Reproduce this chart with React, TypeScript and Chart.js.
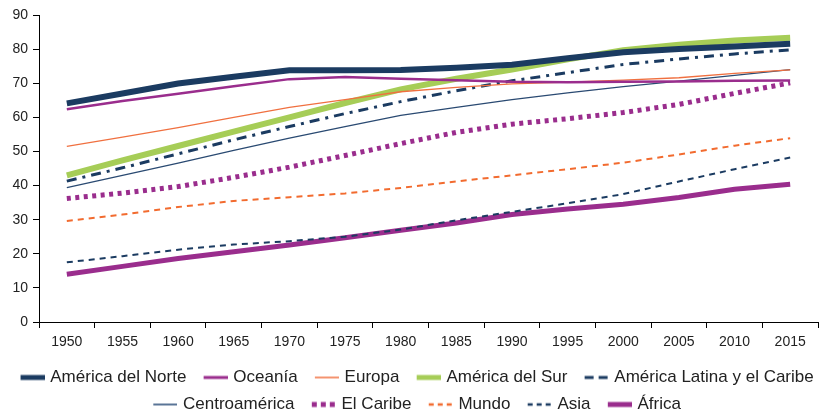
import React, { useEffect, useRef } from 'react';
import { Chart, registerables } from 'chart.js';

Chart.register(...registerables);

const years = ['1950', '1955', '1960', '1965', '1970', '1975', '1980', '1985', '1990', '1995', '2000', '2005', '2010', '2015'];

const americaNorte = [64.1, 67.0, 69.9, 71.9, 73.8, 73.8, 73.9, 74.5, 75.4, 77.3, 79.1, 80.0, 80.8, 81.6];
const oceania = [62.4, 64.8, 66.9, 69.1, 71.2, 71.8, 71.3, 70.9, 70.4, 70.3, 70.4, 70.5, 70.7, 70.8];
const europa = [51.5, 54.2, 57.0, 60.0, 62.9, 65.2, 67.5, 68.8, 69.8, 70.3, 70.9, 71.6, 72.9, 73.9];
const americaSur = [43.0, 47.4, 51.6, 55.8, 60.0, 64.2, 68.2, 71.3, 74.0, 77.0, 79.7, 81.3, 82.5, 83.3];
const americaLatina = [41.3, 45.2, 49.3, 53.4, 57.3, 61.1, 64.6, 67.8, 70.7, 73.1, 75.5, 77.1, 78.6, 79.8];
const centroamerica = [39.4, 43.0, 46.6, 50.3, 53.9, 57.3, 60.6, 62.9, 65.2, 67.2, 69.0, 70.6, 72.3, 74.0];
const caribe = [36.2, 37.8, 39.7, 42.4, 45.4, 48.8, 52.3, 55.6, 58.0, 59.6, 61.4, 63.8, 67.0, 70.1];
const mundo = [29.6, 31.5, 33.7, 35.5, 36.6, 37.7, 39.3, 41.2, 43.0, 44.8, 46.7, 49.1, 51.7, 53.9];
const asia = [17.5, 19.3, 21.2, 22.7, 23.7, 25.0, 27.1, 29.8, 32.3, 34.8, 37.5, 41.2, 44.8, 48.2];
const africa = [14.0, 16.3, 18.6, 20.6, 22.6, 24.7, 26.9, 29.0, 31.5, 33.1, 34.5, 36.5, 38.9, 40.4];

const yTicks = [0, 10, 20, 30, 40, 50, 60, 70, 80, 90];

const NAVY = '#1b3b61';
const PURPLE = '#9a2d8d';
const ORANGE = '#f26b2f';
const GREEN = '#a6cd57';

// legend sample styles: [color, width, dash]
const legendSamples: [string, number, number[]][] = [
  [NAVY, 5, []],
  [PURPLE, 3, []],
  ['#f07040', 1.5, []],
  [GREEN, 5, []],
  [NAVY, 3, [9, 5]],
  ['#5a7597', 2, []],
  [PURPLE, 5, [5, 4]],
  [ORANGE, 2.5, [5, 4]],
  [NAVY, 2.5, [5, 4]],
  [PURPLE, 5, []],
];

function makeSample(color: string, width: number, dash: number[]) {
  const c = document.createElement('canvas');
  c.width = 34;
  c.height = 8;
  const ctx = c.getContext('2d')!;
  ctx.strokeStyle = color;
  ctx.lineWidth = width;
  ctx.lineCap = 'butt';
  ctx.setLineDash(dash);
  ctx.beginPath();
  ctx.moveTo(10, 4);
  ctx.lineTo(34, 4);
  ctx.stroke();
  return c;
}

function ds(label: string, data: number[], color: string, width: number, dash: number[] = []) {
  return {
    label,
    data,
    borderColor: color,
    backgroundColor: color,
    borderWidth: width,
    borderDash: dash,
    borderCapStyle: 'butt' as const,
    pointRadius: 0,
    pointHoverRadius: 0,
    tension: 0,
    fill: false,
    yAxisID: 'y',
  };
}

export default function App() {
  const ref = useRef<HTMLCanvasElement>(null);

  useEffect(() => {
    if (!ref.current) return;
    const samples = legendSamples.map(([c, w, d]) => makeSample(c, w, d));
    const tickFont = { family: "'Liberation Sans', Arial, sans-serif", size: 14 };
    const chart = new Chart(ref.current, {
      type: 'line',
      data: {
        labels: years,
        datasets: [
          ds('América del Norte', americaNorte, NAVY, 6),
          ds('Oceanía', oceania, PURPLE, 2.5),
          ds('Europa', europa, '#f07040', 1.3),
          ds('América del Sur', americaSur, GREEN, 6),
          ds('América Latina y el Caribe', americaLatina, NAVY, 3, [10, 6, 3, 6]),
          ds('Centroamérica', centroamerica, '#2a4a72', 1.3),
          ds('El Caribe', caribe, PURPLE, 5, [4, 4.5]),
          ds('Mundo', mundo, ORANGE, 2, [6, 5]),
          ds('Asia', asia, NAVY, 2, [6, 5]),
          ds('África', africa, PURPLE, 5),
        ],
      },
      options: {
        responsive: false,
        animation: false,
        events: [],
        layout: { padding: { top: 15, right: 0, left: 0, bottom: 0 } },
        plugins: {
          tooltip: { enabled: false },
          title: { display: false },
          legend: {
            display: true,
            position: 'bottom',
            labels: {
              usePointStyle: true,
              pointStyleWidth: 28.5,
              padding: 10,
              color: '#222',
              font: { family: "'Liberation Sans', Arial, sans-serif", size: 17 },
              generateLabels: (ch: any) => {
                const items = (Chart.defaults as any).plugins.legend.labels.generateLabels(ch);
                items.forEach((it: any, i: number) => {
                  it.pointStyle = samples[i];
                });
                return items;
              },
            },
          },
        },
        scales: {
          x: {
            type: 'category',
            offset: true,
            grid: {
              offset: true,
              drawOnChartArea: false,
              drawTicks: true,
              tickLength: 6,
              color: '#000',
            },
            border: { display: true, color: '#000', width: 1 },
            ticks: {
              autoSkip: false,
              maxRotation: 0,
              minRotation: 0,
              padding: 6,
              color: '#222',
              font: tickFont,
            },
            afterFit: (scale: any) => {
              scale.height = 37;
            },
          },
          y: {
            min: 0,
            max: 90,
            afterBuildTicks: (scale: any) => {
              scale.ticks = yTicks.map((v) => ({ value: v }));
            },
            grid: {
              drawOnChartArea: false,
              drawTicks: true,
              tickLength: 6,
              color: '#000',
            },
            border: { display: true, color: '#000', width: 1 },
            ticks: {
              padding: 5,
              color: '#222',
              font: tickFont,
            },
            afterFit: (scale: any) => {
              scale.width = 39;
            },
          },
          yRight: {
            position: 'right',
            min: 0,
            max: 90,
            grid: { display: false, drawTicks: false },
            border: { display: false },
            ticks: { display: false },
            afterFit: (scale: any) => {
              scale.width = 9;
            },
          },
        },
      },
    });
    return () => chart.destroy();
  }, []);

  return (
    <div
      style={{
        position: 'fixed',
        left: 0,
        top: 0,
        width: 827,
        height: 410,
        overflow: 'hidden',
        background: '#fff',
      }}
    >
      <canvas ref={ref} width={827} height={423} style={{ display: 'block', width: 827, height: 423 }} />
    </div>
  );
}
